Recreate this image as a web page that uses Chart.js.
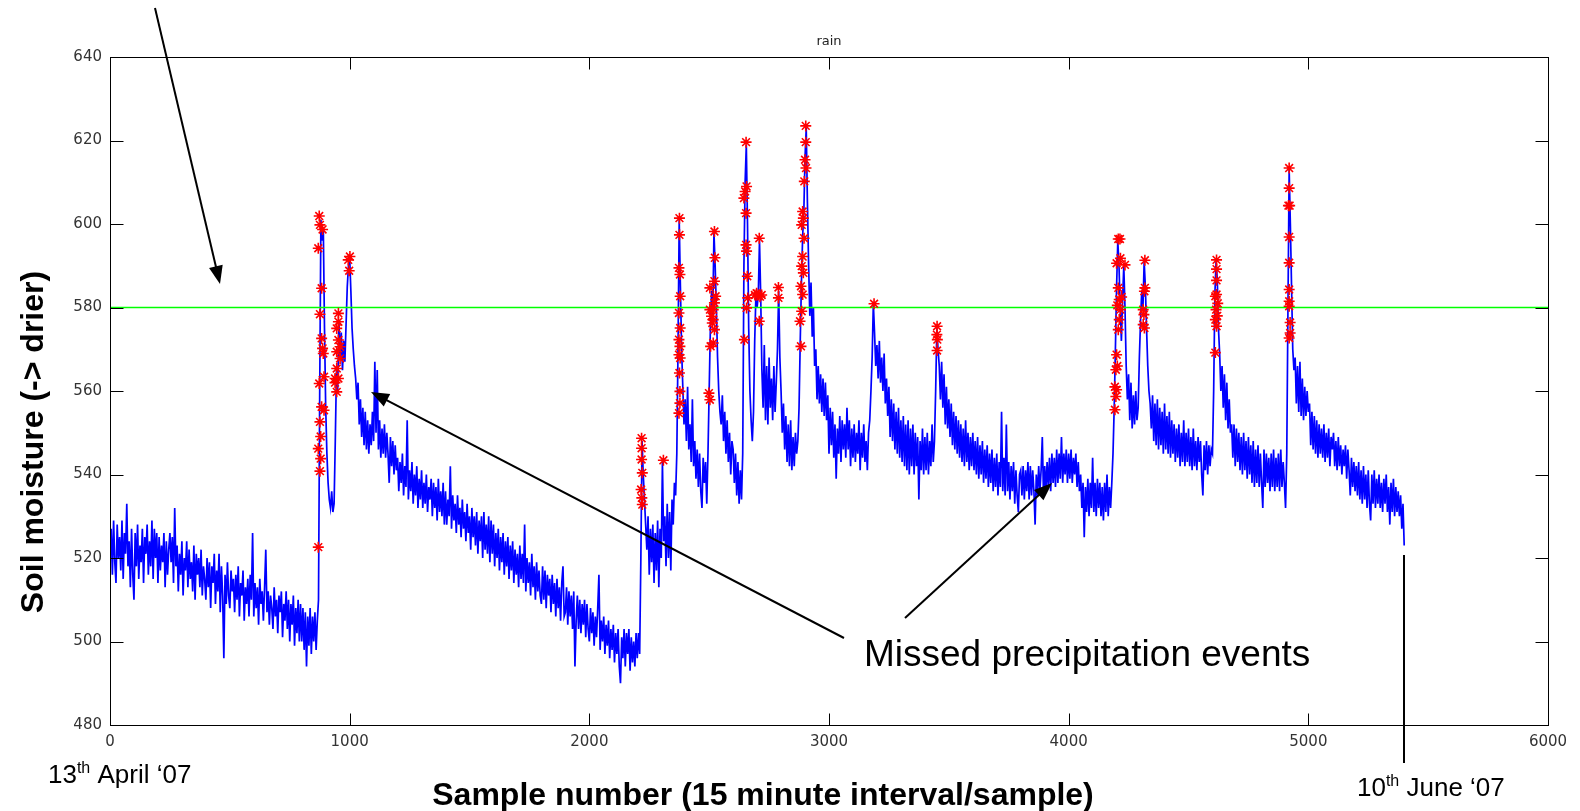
<!DOCTYPE html>
<html lang="en">
<head>
<meta charset="UTF-8">
<title>Soil moisture</title>
<style>
  html, body { margin: 0; padding: 0; background: #fff; }
  #chart { display: block; }
</style>
</head>
<body>
<canvas id="chart" width="1580" height="811"></canvas>
<script src="https://cdn.jsdelivr.net/npm/chart.js"></script>
<script>
  // sensor reading every 5th sample (sample 0 .. 5400), one row = 200 samples
  var sampleStep = 5;
  var moisture = [
    522,527,516,529,519,514,528,520,525,517, 529,515,526,521,533,518,524,513,527,516, 510,526,518,528,515,523,519,527,514,525, 521,528,516,524,518,529,515,527,520,526,
    514,525,517,523,519,526,513,524,516,522, 526,519,525,514,532,518,523,512,521,516, 524,511,520,517,524,513,522,515,519,512, 523,510,521,516,520,513,522,511,518,515,
    510,520,513,519,508,518,514,521,509,517, 512,521,507,518,511,496,516,509,519,511, 508,517,512,515,507,516,510,518,506,514, 511,517,505,513,509,515,506,516,510,526,
    506,514,508,513,504,515,509,512,505,513, 522,507,512,504,511,508,503,513,506,510, 502,511,507,512,501,509,505,512,503,510, 500,509,504,511,499,508,502,510,500,509,
    500,508,498,507,494,506,499,508,497,506, 500,507,498,505,510,560,601,596,599,575, 556,545,538,534,532,536,531,533,548,565, 560,577,568,574,565,572,567,576,585,590,
    592,584,575,570,566,563,558,562,552,558, 549,556,547,555,546,553,545,552,547,555, 548,567,550,565,546,553,544,551,545,552, 544,550,545,538,549,542,548,540,547,541,
    544,536,543,538,545,535,542,537,553,534, 541,536,543,533,540,535,542,532,539,534, 541,532,538,533,540,531,537,534,539,530, 538,532,537,529,539,531,536,530,538,528,
    536,528,534,530,542,527,535,529,533,526, 535,528,532,525,534,527,531,524,533,526, 530,522,532,525,530,523,531,521,529,524, 530,520,531,522,528,521,530,519,529,521,
    528,518,526,520,527,517,525,519,526,516, 524,518,525,515,523,517,524,514,522,516, 521,513,523,515,521,514,528,512,520,514, 519,511,521,513,518,510,519,512,517,511,
    509,518,510,517,508,516,511,515,507,516, 509,514,506,515,508,513,505,514,518,506, 507,513,504,512,506,511,503,512,494,505, 511,503,510,502,509,504,510,501,509,503,
    500,508,502,507,499,506,501,508,516,498, 505,500,506,497,504,499,505,496,503,498, 504,495,502,497,503,494,490,501,496,503, 494,502,497,503,493,501,495,500,494,502,
    496,502,497,520,548,540,534,528,522,530, 516,527,519,528,514,526,517,529,513,527, 520,543,524,530,518,533,520,531,517,534, 528,538,535,545,570,601,585,570,561,552,
    558,548,561,546,552,543,558,542,548,539, 546,537,545,536,532,544,538,543,533,545, 560,575,584,578,598,590,580,568,560,555, 552,559,548,555,545,553,543,550,540,548,
    546,538,545,535,543,533,541,534,545,590, 610,619,600,575,560,553,548,555,572,583, 580,583,596,583,565,556,571,553,566,552, 568,556,563,553,566,555,562,570,584,568,
    560,550,557,546,554,543,552,542,553,541, 549,542,550,545,548,556,572,586,597,603, 616,623,605,590,578,586,573,580,566,570, 558,566,557,564,555,563,554,562,553,559,
    545,556,547,555,544,552,539,551,545,554, 543,553,546,552,544,556,546,553,542,551, 544,552,543,550,545,553,541,550,544,552, 543,548,541,550,553,560,568,581,574,566,
    571,563,572,562,568,560,569,557,563,554, 561,549,558,548,557,546,555,545,556,544, 553,543,554,542,552,541,553,540,551,542, 552,540,550,542,549,534,548,541,551,540,
    549,541,550,540,548,542,552,543,548,560, 575,570,566,558,567,556,564,552,561,551, 558,549,557,547,555,546,554,545,553,544, 552,543,551,542,553,543,550,541,549,542,
    550,541,548,540,549,539,547,540,548,538, 546,539,547,537,545,538,546,536,544,537, 545,535,543,537,555,536,544,535,552,536, 543,534,542,536,543,533,541,535,531,540,
    541,535,542,534,541,536,543,534,542,535, 541,536,528,540,535,542,536,541,549,535, 542,536,543,537,544,536,545,538,544,537, 546,538,545,539,549,538,545,540,546,538,
    545,539,546,538,544,540,545,537,543,536, 540,532,538,525,537,531,539,530,538,532, 544,531,538,530,539,532,538,530,537,529, 538,531,540,530,537,532,538,545,556,570,
    585,596,590,580,572,582,590,580,566,558, 564,553,562,551,559,552,560,553,556,568, 577,584,580,591,585,575,566,560,557,551, 559,548,557,547,558,546,556,547,555,545,
    557,546,554,545,555,544,553,545,552,543, 551,544,552,542,550,543,553,542,550,543, 551,542,549,541,551,542,548,541,549,543, 548,540,535,547,541,548,540,547,542,546,
    545,560,583,591,587,575,569,560,566,556, 564,553,562,551,558,550,552,544,552,542, 551,543,550,541,549,540,550,541,548,539, 549,540,547,538,548,537,546,538,547,537,
    545,538,532,546,537,545,538,544,536,545, 537,546,536,544,537,545,536,546,537,543, 538,532,545,580,613,600,585,570,565,568, 557,566,555,567,554,563,553,561,554,560,
    555,557,547,555,546,554,545,553,544,552, 545,551,544,552,543,550,544,551,542,549, 546,550,542,548,541,549,542,547,540,546, 542,547,539,546,541,535,544,537,543,536,
    542,535,543,534,541,533,542,534,540,532, 541,533,529,540,533,541,532,539,533,540, 532,538,531,539,533,540,531,537,528,538, 531,539,530,537,531,536,530,535,527,533,
    523
  ];

  // samples flagged as rain (red stars)
  var rainSamples = [
    873, 876, 887, 869, 883, 876, 883, 887, 890, 893, 873, 883, 893, 876, 879, 869, 879, 876, 869,
    953, 953, 946, 953, 960, 946, 960, 946, 939, 953, 946, 939,
    1001, 994, 998,
    2218, 2218, 2218, 2221, 2216, 2219, 2221, 2309,
    2376, 2376, 2374, 2378, 2379, 2374, 2379, 2374, 2378, 2374, 2379, 2376, 2378, 2378, 2374,
    2522, 2524, 2522, 2503, 2527, 2522, 2503, 2510, 2517, 2513, 2522, 2517, 2506, 2499, 2503, 2517,
    2654, 2656, 2650, 2645, 2654, 2654, 2656, 2659, 2661, 2656, 2647,
    2691, 2698, 2705, 2712, 2719, 2709, 2709, 2789, 2789,
    2883, 2879, 2886, 2890, 2883, 2893, 2886, 2890, 2896, 2886, 2893, 2890, 2897, 2904, 2900, 2903, 2903,
    3188, 3451, 3450, 3452, 3451,
    4193, 4197, 4200, 4193, 4197, 4203, 4200, 4207, 4211, 4216, 4203, 4211, 4221, 4207, 4200, 4216, 4235, 4207, 4214,
    4318, 4318, 4316, 4311, 4314, 4311, 4316,
    4617, 4617, 4617, 4617, 4612, 4622, 4615, 4620, 4612, 4617, 4612,
    4920, 4920, 4917, 4922, 4920, 4920, 4920, 4920, 4920, 4924, 4924, 4920
  ];
  var rainValues = [
    601.9, 599.8, 598.7, 594.2, 584.6, 578.4, 572.6, 570.2, 569, 563.4, 561.8, 556.2, 555.4, 552.6, 549.1, 546.2, 543.8, 540.8, 522.6,
    578.6, 576.6, 575, 572.2, 570.6, 569.4, 567.8, 565.4, 563, 563, 559.8, 562,
    592.2, 591.4, 588.8,
    548.7, 546.3, 543.6, 540.4, 536.4, 534.4, 532.8, 543.4,
    601.4, 597.4, 589.5, 587.9, 582.7, 578.7, 575.1, 572.3, 570.7, 568.7, 567.9, 564.3, 559.9, 557.1, 554.7,
    598.2, 591.9, 586.3, 584.7, 582.7, 581.1, 579.5, 577.9, 577.1, 576.3, 574.7, 571.5, 570.7, 559.5, 557.9, 579.5,
    619.6, 609, 607.8, 606.2, 602.6, 595, 593.5, 587.5, 582.3, 579.9, 572.3,
    583, 583.4, 583, 582.6, 583, 596.6, 576.7, 584.8, 582.3,
    570.7, 576.7, 579.1, 583.1, 585.1, 588.3, 589.9, 592.2, 596.6, 599.8, 601.4, 603, 610.2, 613.4, 615.4, 619.6, 623.5,
    580.9, 575.5, 573.5, 572.3, 569.7,
    555.5, 558.7, 560.3, 561, 565.1, 566, 568.7, 574.7, 577.1, 579.5, 580.5, 581.9, 582.5, 584.7, 590.6, 591.8, 590.2, 596.4, 596.4,
    591.3, 584.7, 583.9, 579.5, 578.3, 575.9, 575.1,
    591.4, 589.2, 586.5, 583.1, 582.7, 581, 579.5, 578, 577.1, 575.5, 569.2,
    613.4, 608.6, 604.4, 604.4, 596.9, 590.7, 584.3, 581.5, 580.3, 576.4, 573.9, 572.7
  ];

  var rainThreshold = 580;
  var xTickValues = [0, 1000, 2000, 3000, 4000, 5000, 6000];
  var yTickValues = [480, 500, 520, 540, 560, 580, 600, 620, 640];

  var lineData = moisture.map(function (v, i) { return { x: i * sampleStep, y: v }; });
  var rainData = rainSamples.map(function (s, i) { return { x: s, y: rainValues[i] }; });
  var thresholdData = [{ x: 0, y: rainThreshold }, { x: 6000, y: rainThreshold }];

  var tickFont = { family: 'DejaVu Sans', size: 15 };

  function supText(ctx, x, y, big, sup, rest, size) {
    ctx.font = size + 'px "Liberation Sans", Arial, sans-serif';
    ctx.fillText(big, x, y);
    x += ctx.measureText(big).width;
    ctx.font = Math.round(size * 0.62) + 'px "Liberation Sans", Arial, sans-serif';
    ctx.fillText(sup, x, y - size * 0.38);
    x += ctx.measureText(sup).width;
    ctx.font = size + 'px "Liberation Sans", Arial, sans-serif';
    ctx.fillText(rest, x, y);
  }

  function arrow(ctx, x1, y1, x2, y2) {
    var ang = Math.atan2(y2 - y1, x2 - x1);
    var len = 18, half = 7;
    var c = Math.cos(ang), s = Math.sin(ang);
    ctx.beginPath();
    ctx.moveTo(x1, y1);
    ctx.lineTo(x2 - len * 0.7 * c, y2 - len * 0.7 * s);
    ctx.stroke();
    ctx.beginPath();
    ctx.moveTo(x2, y2);
    ctx.lineTo(x2 - len * c + half * s, y2 - len * s - half * c);
    ctx.lineTo(x2 - len * c - half * s, y2 - len * s + half * c);
    ctx.closePath();
    ctx.fill();
  }

  // box, inward ticks (matlab style) and the slide annotations
  var decorations = {
    id: 'decorations',
    afterDraw: function (chart) {
      var ctx = chart.ctx;
      var a = chart.chartArea;
      var xs = chart.scales.x, ys = chart.scales.y;
      var L = Math.round(a.left) + 0.5, R = Math.round(a.right) + 0.5;
      var T = Math.round(a.top) + 0.5, B = Math.round(a.bottom) + 0.5;
      ctx.save();
      ctx.strokeStyle = '#000';
      ctx.lineWidth = 1;
      ctx.strokeRect(L, T, R - L, B - T);
      ctx.beginPath();
      xTickValues.forEach(function (v) {
        var px = Math.round(xs.getPixelForValue(v)) + 0.5;
        ctx.moveTo(px, B); ctx.lineTo(px, B - 12);
        ctx.moveTo(px, T); ctx.lineTo(px, T + 12);
      });
      yTickValues.forEach(function (v) {
        var py = Math.round(ys.getPixelForValue(v)) + 0.5;
        ctx.moveTo(L, py); ctx.lineTo(L + 13, py);
        ctx.moveTo(R, py); ctx.lineTo(R - 13, py);
      });
      ctx.stroke();

      ctx.fillStyle = '#222';
      ctx.font = '13px "DejaVu Sans", sans-serif';
      ctx.textAlign = 'center';
      ctx.textBaseline = 'alphabetic';
      ctx.fillText('rain', (a.left + a.right) / 2, 45);

      ctx.fillStyle = '#000';
      ctx.font = 'bold 32px "Liberation Sans", Arial, sans-serif';
      ctx.fillText('Sample number (15 minute interval/sample)', 763, 805);
      ctx.save();
      ctx.translate(43, 442);
      ctx.rotate(-Math.PI / 2);
      ctx.fillText('Soil moisture (-> drier)', 0, 0);
      ctx.restore();

      ctx.textAlign = 'left';
      supText(ctx, 48, 783, '13', 'th', ' April \u201807', 26);
      supText(ctx, 1357, 796, '10', 'th', ' June \u201807', 26);
      ctx.font = '37px "Liberation Sans", Arial, sans-serif';
      ctx.fillText('Missed precipitation events', 864, 666);

      ctx.lineWidth = 2;
      ctx.strokeStyle = '#000';
      arrow(ctx, 155, 8, 220, 284);
      arrow(ctx, 844, 638, 371, 392);
      arrow(ctx, 905, 618, 1052, 483);
      ctx.beginPath();
      ctx.moveTo(1404, 555);
      ctx.lineTo(1404, 763);
      ctx.stroke();
      ctx.restore();
    }
  };

  var chart = new Chart(document.getElementById('chart'), {
    type: 'line',
    data: {
      datasets: [
        {
          label: 'rain',
          data: rainData,
          showLine: false,
          pointStyle: 'star',
          pointRadius: 5.5,
          pointBorderWidth: 1.6,
          pointBorderColor: '#ff0000',
          pointBackgroundColor: '#ff0000',
          order: 0
        },
        {
          label: 'threshold',
          data: thresholdData,
          borderColor: '#00ff00',
          borderWidth: 1.5,
          pointRadius: 0,
          order: 1
        },
        {
          label: 'soil moisture',
          data: lineData,
          borderColor: '#0000ff',
          borderWidth: 1.7,
          pointRadius: 0,
          tension: 0,
          order: 2
        }
      ]
    },
    options: {
      responsive: false,
      animation: false,
      devicePixelRatio: 1,
      layout: { padding: { left: 0, right: 32, top: 57, bottom: 0 } },
      plugins: { legend: { display: false }, tooltip: { enabled: false } },
      scales: {
        x: {
          type: 'linear',
          min: 0,
          max: 6000,
          afterBuildTicks: function (s) { s.ticks = xTickValues.map(function (v) { return { value: v }; }); },
          afterFit: function (s) { s.height = 86; },
          grid: { display: false, drawTicks: false },
          border: { display: false },
          ticks: {
            font: tickFont, color: '#333', padding: 8, maxRotation: 0, autoSkip: false,
            callback: function (v) { return String(v); }
          }
        },
        y: {
          min: 480,
          max: 640,
          afterBuildTicks: function (s) { s.ticks = yTickValues.map(function (v) { return { value: v }; }); },
          afterFit: function (s) { s.width = 110; },
          grid: { display: false, drawTicks: false },
          border: { display: false },
          ticks: {
            font: tickFont, color: '#333', padding: 8, autoSkip: false,
            callback: function (v) { return String(v); }
          }
        }
      }
    },
    plugins: [decorations]
  });
</script>
</body>
</html>
